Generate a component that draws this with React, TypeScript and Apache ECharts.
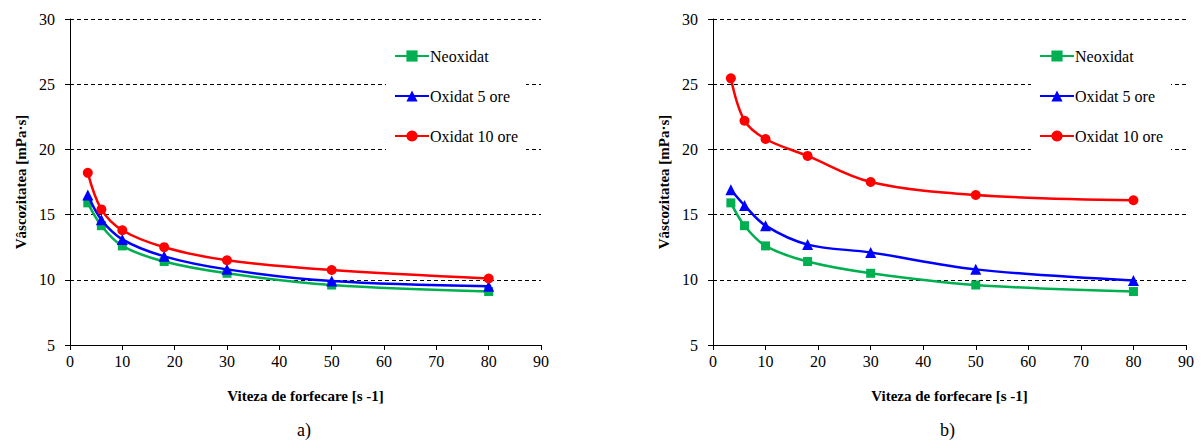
import React, { useEffect, useRef } from "react";
import * as echarts from "echarts";

// Shear rate values [s^-1]
const shearRates = [3.4, 6, 10, 18, 30, 50, 80];

// Panel a) viscosity values [mPa·s]
const aNeoxidat = [15.9, 14.15, 12.6, 11.4, 10.5, 9.6, 9.1];
const aOxidat5 = [16.5, 14.6, 13.1, 11.8, 10.8, 9.9, 9.5];
const aOxidat10 = [18.2, 15.4, 13.8, 12.5, 11.5, 10.75, 10.1];

// Panel b) viscosity values [mPa·s]
const bNeoxidat = [15.9, 14.15, 12.6, 11.4, 10.5, 9.6, 9.1];
const bOxidat5 = [16.9, 15.7, 14.15, 12.7, 12.1, 10.8, 9.95];
const bOxidat10 = [25.45, 22.2, 20.8, 19.5, 17.5, 16.5, 16.1];

const seriesNames = ["Neoxidat", "Oxidat 5 ore", "Oxidat 10 ore"];
const seriesColors = ["#00B050", "#0000FF", "#FF0000"];
const seriesSymbols = ["rect", "triangle", "circle"];
const symbolSizes = [9, 11, 10];

const xTitle = "Viteza de forfecare [s -1]";
const yTitle = "Vâscozitatea [mPa·s]";
const panelLabels = ["a)", "b)"];

const FONT = "Times New Roman";

const pairs = (ys: number[]) => shearRates.map((x, i) => [x, ys[i]]);

export default function App() {
  const ref = useRef<HTMLDivElement>(null);

  useEffect(() => {
    if (!ref.current) return;
    const chart = echarts.init(ref.current, undefined, { renderer: "svg" });

    const grids = [
      { left: 70, top: 19, width: 471, height: 326 },
      { left: 713, top: 19, width: 473, height: 326 },
    ];

    const xAxis = grids.map((_, i) => ({
      type: "value",
      gridIndex: i,
      min: 0,
      max: 90,
      interval: 10,
      name: xTitle,
      nameLocation: "middle",
      nameGap: 43,
      nameTextStyle: { fontFamily: FONT, fontSize: 15, fontWeight: "bold", color: "#000" },
      axisLine: { show: true, lineStyle: { color: "#000", width: 1 } },
      axisTick: { show: true, length: 5, lineStyle: { color: "#000" } },
      axisLabel: { fontFamily: FONT, fontSize: 16, color: "#000", margin: 8 },
      splitLine: { show: false },
    }));

    const yAxis = grids.map((_, i) => ({
      type: "value",
      gridIndex: i,
      min: 5,
      max: 30,
      interval: 5,
      name: yTitle,
      nameLocation: "middle",
      nameGap: 42,
      nameTextStyle: { fontFamily: FONT, fontSize: 15, fontWeight: "bold", color: "#000" },
      axisLine: { show: true, lineStyle: { color: "#000", width: 1 } },
      axisTick: { show: true, length: 5, lineStyle: { color: "#000" } },
      axisLabel: { fontFamily: FONT, fontSize: 16, color: "#000", margin: 15 },
      splitLine: {
        show: true,
        lineStyle: { color: "#000", width: 1, type: [4, 3] },
      },
    }));

    const panels = [
      [aNeoxidat, aOxidat5, aOxidat10],
      [bNeoxidat, bOxidat5, bOxidat10],
    ];

    const series: any[] = [];
    panels.forEach((panel, p) => {
      panel.forEach((ys, k) => {
        series.push({
          type: "line",
          name: seriesNames[k],
          xAxisIndex: p,
          yAxisIndex: p,
          data: pairs(ys),
          smooth: 0.35,
          symbol: seriesSymbols[k],
          symbolSize: symbolSizes[k],
          showAllSymbol: true,
          lineStyle: { color: seriesColors[k], width: 2.5 },
          itemStyle: { color: seriesColors[k] },
          z: 3 + k,
        });
      });
    });

    const legendLefts = [386, 1031];
    const legend = legendLefts.map((left) => ({
      show: true,
      data: seriesNames,
      orient: "vertical",
      left,
      top: 33,
      padding: [15, 8, 60, 8],
      itemGap: 24,
      itemWidth: 34,
      itemHeight: 14,
      backgroundColor: "#fff",
      selectedMode: false,
      textStyle: { fontFamily: FONT, fontSize: 16, color: "#000", padding: [0, 0, 0, -4] },
    }));

    chart.setOption({
      animation: false,
      grid: grids,
      xAxis,
      yAxis,
      legend,
      series,
      graphic: [
        {
          type: "text",
          left: 297,
          top: 421,
          style: { text: panelLabels[0], font: `18px ${FONT}`, fill: "#000" },
        },
        {
          type: "text",
          left: 940,
          top: 421,
          style: { text: panelLabels[1], font: `18px ${FONT}`, fill: "#000" },
        },
      ],
    });

    return () => chart.dispose();
  }, []);

  return (
    <div
      ref={ref}
      style={{ position: "fixed", left: 0, top: 0, width: 1201, height: 444, background: "#fff" }}
    />
  );
}
